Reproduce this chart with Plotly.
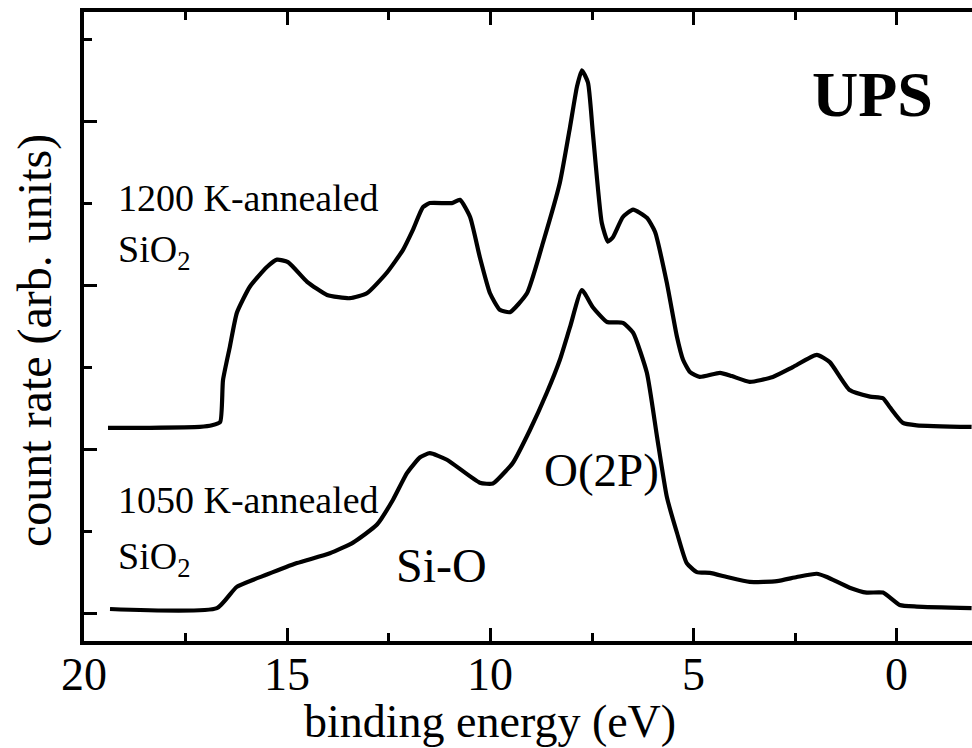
import plotly.graph_objects as go

# 1200 K-annealed SiO2 (upper curve)
energy_1200 = [19.41, 18.38, 17.15, 16.85, 16.65, 16.58, 16.41, 16.24, 15.92, 15.50, 15.25, 14.98,
               14.51, 14.02, 13.46, 13.04, 12.55, 12.15, 11.91, 11.66, 11.49, 10.95, 10.75, 10.50,
               10.26, 10.01, 9.77, 9.52, 9.10, 8.71, 8.29, 8.04, 7.87, 7.75, 7.60, 7.48, 7.26,
               7.11, 6.99, 6.74, 6.49, 6.15, 5.95, 5.66, 5.41, 5.26, 5.09, 4.85, 4.35, 4.06, 3.62,
               3.05, 2.56, 1.97, 1.65, 1.16, 0.66, 0.34, 0.17, -0.15, -0.49, -1.84]
counts_1200 = [2.27, 2.27, 2.28, 2.30, 2.34, 2.85, 3.26, 3.67, 3.99, 4.23, 4.32, 4.29,
               4.05, 3.89, 3.85, 3.91, 4.16, 4.44, 4.68, 4.96, 5.01, 5.01, 5.05, 4.84,
               4.35, 3.91, 3.71, 3.68, 3.91, 4.52, 5.26, 5.94, 6.43, 6.63, 6.48, 5.87, 4.77,
               4.54, 4.59, 4.84, 4.93, 4.83, 4.66, 4.04, 3.38, 3.10, 2.95, 2.89, 2.94, 2.90, 2.83,
               2.89, 3.01, 3.16, 3.07, 2.73, 2.65, 2.63, 2.52, 2.33, 2.30, 2.28]

# 1050 K-annealed SiO2 (lower curve)
energy_1050 = [19.36, 16.73, 16.24, 15.50, 14.76, 13.95, 13.38, 12.79, 12.40, 12.05, 11.73, 11.49,
               11.07, 10.26, 9.94, 9.59, 9.45, 9.03, 8.61, 8.29, 8.04, 7.75, 7.48, 7.13, 6.74,
               6.49, 6.15, 5.90, 5.66, 5.41, 5.17, 4.92, 4.60, 4.18, 3.62, 2.95, 2.46, 1.97,
               1.72, 1.16, 0.74, 0.34, -0.07, -0.49, -1.84]
counts_1050 = [0.06, 0.07, 0.33, 0.48, 0.62, 0.74, 0.87, 1.09, 1.39, 1.72, 1.91, 1.96,
               1.88, 1.60, 1.59, 1.76, 1.84, 2.24, 2.70, 3.10, 3.50, 3.95, 3.74, 3.56, 3.55,
               3.43, 2.94, 2.16, 1.43, 0.99, 0.62, 0.51, 0.50, 0.45, 0.39, 0.40, 0.45, 0.49,
               0.45, 0.32, 0.26, 0.26, 0.11, 0.09, 0.07]

x_ticks = [20, 15, 10, 5, 0]
x_ticklabels = ["20", "15", "10", "5", "0"]

FONT = "Liberation Serif"

fig = go.Figure()
for xs, ys in [(energy_1200, counts_1200), (energy_1050, counts_1050)]:
    fig.add_trace(go.Scatter(x=xs, y=ys, mode="lines",
                             line=dict(color="black", width=4.2, shape="spline", smoothing=0.5),
                             showlegend=False, hoverinfo="skip"))

fig.update_layout(
    width=972, height=748,
    margin=dict(l=84, r=0, t=12, b=107),
    paper_bgcolor="white", plot_bgcolor="white",
    font=dict(family=FONT, color="black"),
    showlegend=False,
)
fig.update_xaxes(
    range=[20, -1.85], showgrid=False, zeroline=False,
    showline=True, linecolor="black", linewidth=4, mirror="ticks",
    ticks="inside", ticklen=13, tickwidth=3, tickcolor="black",
    tickvals=x_ticks, showticklabels=False,
    minor=dict(ticks="inside", ticklen=8, tickwidth=3, tickcolor="black", dtick=2.5, tick0=0, showgrid=False),
)
fig.update_yaxes(
    range=[-0.33, 7.34], showgrid=False, zeroline=False,
    showline=True, linecolor="black", linewidth=4, mirror=False,
    ticks="inside", ticklen=13, tickwidth=3, tickcolor="black",
    dtick=2, tick0=0, showticklabels=False,
    minor=dict(ticks="inside", ticklen=8, tickwidth=3, tickcolor="black", dtick=1, tick0=0, showgrid=False),
)

W, H = 972, 748
L, R, T, B = 84, 972, 12, 641
def px(x):
    return (x - L) / (R - L)
def py(y):
    return (B - y) / (B - T)

def ann(text, x, y, size, xanchor="center", yanchor="middle", bold=False, angle=0, xref="paper"):
    if bold:
        text = "<b>" + text + "</b>"
    fig.add_annotation(text=text, x=x, y=y, xref=xref, yref="paper",
                       xanchor=xanchor, yanchor=yanchor, showarrow=False, textangle=angle,
                       font=dict(family=FONT, size=size, color="black"))

# tick labels placed on the data x scale
for v, lab in zip(x_ticks, x_ticklabels):
    ann(lab, v, py(675), 46, xref="x")

ann("binding energy (eV)", px(490), py(721), 46)
ann("count rate (arb. units)", px(35), py(341), 48, angle=-90)
ann("UPS", px(872), py(95), 64, bold=True)
ann("1200 K-annealed", px(116), py(198), 38, xanchor="left")
ann("SiO<sub>2</sub>", px(116), py(252), 38, xanchor="left")
ann("1050 K-annealed", px(116), py(500), 38, xanchor="left")
ann("SiO<sub>2</sub>", px(116), py(559), 38, xanchor="left")
ann("Si-O", px(441), py(565), 48)
ann("O(2P)", px(601), py(470), 47)

fig.write_html("out.html")
